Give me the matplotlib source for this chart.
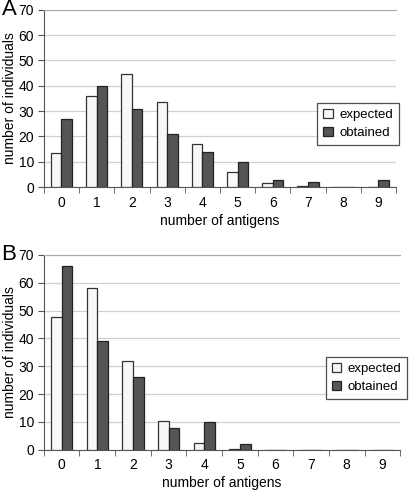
import matplotlib.pyplot as plt
import numpy as np

plt.rcParams['font.family'] = ['Liberation Sans', 'DejaVu Sans']

antigens = [0, 1, 2, 3, 4, 5, 6, 7, 8, 9]

# panel A
expected_a = [13.3, 35.8, 44.5, 33.5, 17.0, 6.0, 1.5, 0.4, 0.05, 0.0]
obtained_a = [27, 40, 31, 21, 14, 10, 3, 2, 0, 3]

# panel B
expected_b = [47.5, 58.0, 32.0, 10.5, 2.3, 0.4, 0.0, 0.0, 0.0, 0.0]
obtained_b = [66, 39, 26, 8, 10, 2, 0, 0, 0, 0]

fig = plt.figure(figsize=(4.1, 4.9), dpi=100)


def draw_panel(ax, expected, obtained, letter, legend_pos):
    x = np.array(antigens)
    w = 0.3
    ax.bar(x - w / 2, expected, w, color='#f7f7f7', edgecolor='#333333',
           linewidth=0.9, label='expected', zorder=3)
    ax.bar(x + w / 2, obtained, w, color='#555555', edgecolor='#222222',
           linewidth=0.9, label='obtained', zorder=3)
    ax.set_xlim(-0.5, 9.5)
    ax.set_ylim(0, 70)
    ax.set_yticks(range(0, 71, 10))
    ax.yaxis.grid(True, color='#d0d0d0', linewidth=0.9, zorder=0)
    ax.set_axisbelow(True)
    ax.set_xticks(x)
    ax.set_xticklabels([str(v) for v in antigens])
    ax.set_xticks(np.arange(-0.5, 10, 1), minor=True)
    ax.tick_params(axis='x', which='major', length=0, pad=6, labelsize=10)
    ax.tick_params(axis='x', which='minor', length=4, color='#555555')
    ax.tick_params(axis='y', length=4, labelsize=10, color='#555555', pad=3)
    ax.spines['right'].set_visible(False)
    ax.spines['top'].set_color('#aaaaaa')
    ax.spines['left'].set_color('#555555')
    ax.spines['bottom'].set_color('#555555')
    ax.set_xlabel('number of antigens', fontsize=10, labelpad=3)
    ax.set_ylabel('number of individuals', fontsize=10, labelpad=1)
    ax.text(-0.12, 1.0, letter, transform=ax.transAxes, fontsize=16,
            va='center', ha='left')
    leg = ax.legend(loc='upper right', bbox_to_anchor=legend_pos, fontsize=9.5,
                    frameon=True, fancybox=False, edgecolor='#222222',
                    handlelength=0.7, handleheight=0.7, handletextpad=0.5,
                    borderpad=0.45, labelspacing=0.45, borderaxespad=0)
    leg.get_frame().set_linewidth(0.9)


ax_a = fig.add_axes([0.107, 0.618, 0.859, 0.362])
draw_panel(ax_a, expected_a, obtained_a, 'A', (1.008, 0.475))

ax_b = fig.add_axes([0.107, 0.082, 0.869, 0.398])
draw_panel(ax_b, expected_b, obtained_b, 'B', (1.02, 0.477))

fig.savefig('out.png', dpi=100)
